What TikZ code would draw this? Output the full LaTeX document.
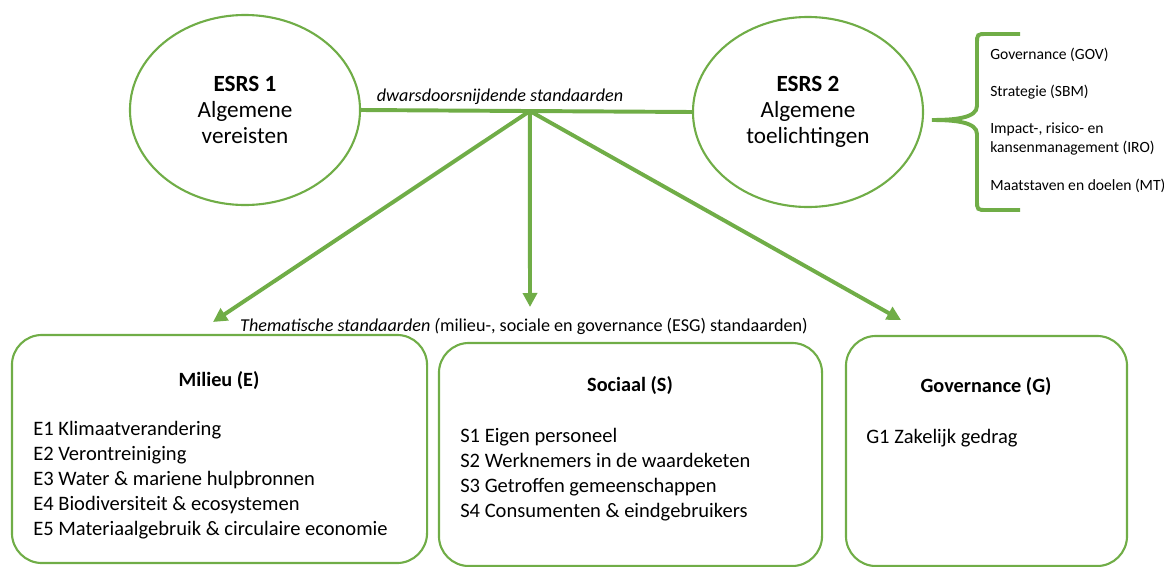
\documentclass[tikz,border=0pt]{standalone}
\usepackage{fontspec}
\setmainfont{Carlito}
\usetikzlibrary{shapes.geometric,arrows.meta}
\definecolor{esggreen}{HTML}{70AD47}
\begin{document}
\begin{tikzpicture}[x=0.025cm,y=-0.025cm,%
  esrs/.style={ellipse,draw=esggreen,line width=1.5pt,minimum width=5.75cm,minimum height=4.75cm,inner sep=0pt,align=center,font=\fontsize{16.5}{18.5}\selectfont},%
  themebox/.style={draw=esggreen,line width=1.5pt,rounded corners=0.75cm,inner sep=0pt},%
  link/.style={draw=esggreen,line width=2.8pt},%
  arrow/.style={link,-{Triangle[length=0.35cm,width=0.35cm]}},%
  boxtitle/.style={font=\fontsize{14.4}{16}\selectfont\bfseries},%
  boxlist/.style={anchor=west,align=left,inner sep=0pt,font=\fontsize{14.6}{17.8}\selectfont},%
  sidelabel/.style={anchor=west,inner sep=0pt,align=left,font=\fontsize{11.1}{13.5}\selectfont},%
  italiclabel/.style={font=\fontsize{12.9}{15}\selectfont}]%
\useasboundingbox (0,0) rectangle (1164,566);%
%
\node[esrs] (esrs1) at (245,110) {\textbf{ESRS 1}\\Algemene\\vereisten};%
\node[esrs] (esrs2) at (808,112) {\textbf{ESRS 2}\\Algemene\\toelichtingen};%
\draw[link] (esrs1.east) -- (esrs2.west) coordinate[pos=0.51] (split);%
\node[italiclabel] (crosslabel) at (500,97) {\itshape dwarsdoorsnijdende standaarden};%
%
\def\bracex{977};%
\draw[esggreen,line width=2.8pt] (1020,34) -- (\bracex+10,34) .. controls (\bracex,34) .. (\bracex,44) -- (\bracex,106) .. controls (\bracex,118) and (955,120) .. (932,120) .. controls (955,120) and (\bracex,122) .. (\bracex,134) -- (\bracex,200) .. controls (\bracex,210) .. (\bracex+10,210) -- (1020,210);%
\node[sidelabel] (gov) at (990,55) {Governance (GOV)};%
\node[sidelabel] (sbm) at (990,92) {Strategie (SBM)};%
\node[sidelabel] (iro) at (990,138.5) {Impact-, risico- en\\kansenmanagement (IRO)};%
\node[sidelabel] (mt) at (990,186) {Maatstaven en doelen (MT)};%
%
\coordinate (tipE) at (213,322);%
\coordinate (tipS) at (530,307);%
\coordinate (tipG) at (901,320);%
\draw[arrow] (split) -- (tipE);%
\draw[arrow] (split) -- (tipS);%
\draw[arrow] (split) -- (tipG);%
\node[italiclabel] (themelabel) at (524,326) {\textit{Thematische standaarden (}milieu-, sociale en governance (ESG) standaarden)};%
%
\node[themebox,minimum width=10.375cm,minimum height=5.7cm] (boxE) at (219.5,449) {};%
\node[themebox,minimum width=9.575cm,minimum height=5.575cm] (boxS) at (630.5,454.5) {};%
\node[themebox,minimum width=7.025cm,minimum height=5.75cm] (boxG) at (986.5,451) {};%
\node[boxtitle] (titleE) at (219,381) {Milieu (E)};%
\node[boxtitle] (titleS) at (630,386) {Sociaal (S)};%
\node[boxtitle] (titleG) at (986,387) {Governance (G)};%
\node[boxlist] (listE) at (33,480) {E1 Klimaatverandering\\E2 Verontreiniging\\E3 Water \& mariene hulpbronnen\\E4 Biodiversiteit \& ecosystemen\\E5 Materiaalgebruik \& circulaire economie};%
\node[boxlist] (listS) at (460,474.5) {S1 Eigen personeel\\S2 Werknemers in de waardeketen\\S3 Getroffen gemeenschappen\\S4 Consumenten \& eindgebruikers};%
\node[boxlist] (listG) at (866,438) {G1 Zakelijk gedrag};%
\end{tikzpicture}
\end{document}
